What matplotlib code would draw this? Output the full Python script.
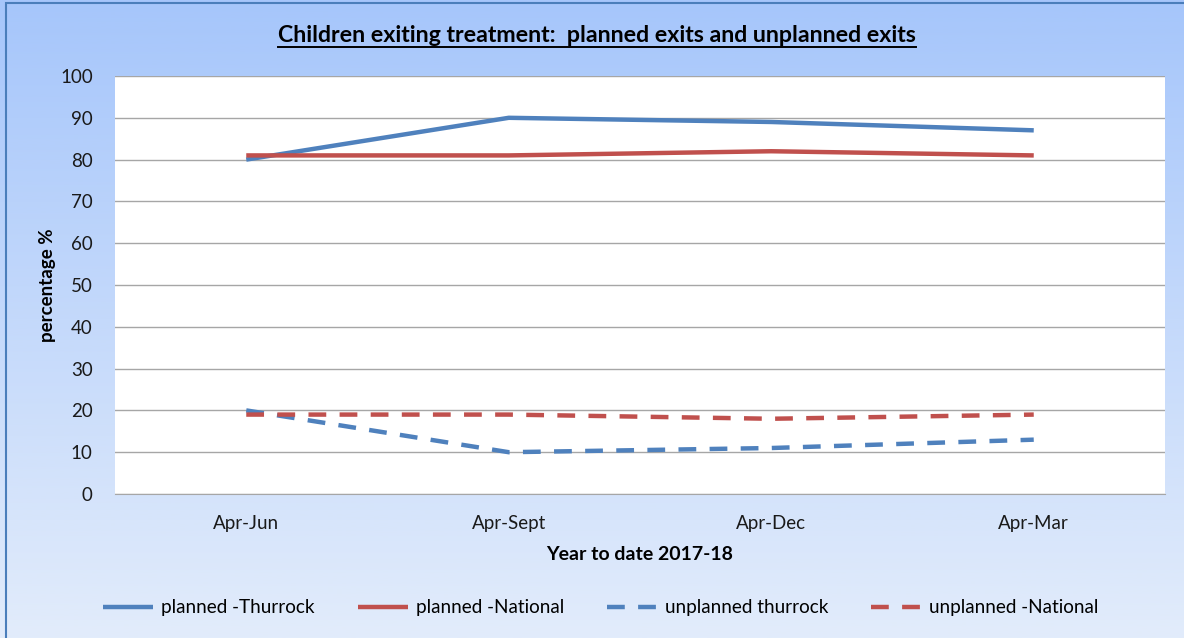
import matplotlib
matplotlib.use("Agg")
import matplotlib.pyplot as plt
import numpy as np
from matplotlib.patches import Rectangle

categories = ["Apr-Jun", "Apr-Sept", "Apr-Dec", "Apr-Mar"]
planned_thurrock = [80, 90, 89, 87]
planned_national = [81, 81, 82, 81]
unplanned_thurrock = [20, 10, 11, 13]
unplanned_national = [19, 19, 18, 19]

W, H = 1184, 638
fig = plt.figure(figsize=(W / 100, H / 100), dpi=100)
plt.rcParams['font.family'] = ['Lato', 'DejaVu Sans']

# gradient background
bg = fig.add_axes([0, 0, 1, 1], zorder=-10)
top = np.array([0xa6, 0xc6, 0xfb]) / 255
bot = np.array([0xe2, 0xec, 0xfb]) / 255
t = np.linspace(0, 1, 256)[:, None]
grad = top * (1 - t) + bot * t
bg.imshow(grad[:, None, :], aspect='auto', extent=[0, 1, 0, 1])
bg.set_xlim(0, 1); bg.set_ylim(0, 1)
bg.axis('off')
fig.patches.append(Rectangle((6 / W, -0.1), 1.2, (H - 3) / H + 0.1,
                             transform=fig.transFigure, fill=False,
                             edgecolor='#4a7ebb', linewidth=1.5, zorder=5))

ax = fig.add_axes([115 / W, 1 - 494 / H, 1050 / W, (494 - 76) / H])
ax.set_facecolor('white')
x = np.arange(len(categories))
blue = '#4f81bd'
red = '#c0504d'
lw = 3.2
ax.plot(x, planned_thurrock, color=blue, lw=lw, label='planned -Thurrock', solid_capstyle='butt')
ax.plot(x, planned_national, color=red, lw=lw, label='planned -National', solid_capstyle='butt')
ax.plot(x, unplanned_thurrock, color=blue, lw=lw, ls=(0, (4, 3)), label='unplanned thurrock', dash_capstyle='butt')
ax.plot(x, unplanned_national, color=red, lw=lw, ls=(0, (4, 3)), label='unplanned -National', dash_capstyle='butt')

ax.set_xlim(-0.5, 3.5)
ax.set_ylim(0, 100)
ax.set_yticks(range(0, 101, 10))
ax.set_xticks(x)
ax.set_xticklabels(categories)
ax.grid(axis='y', color='#a6a6a6', lw=1)
ax.set_axisbelow(True)
for s in ['top', 'right', 'left']:
    ax.spines[s].set_visible(False)
ax.spines['bottom'].set_color('#a6a6a6')
ax.tick_params(axis='both', length=0, labelsize=13.5, colors='#1a1a1a')
ax.tick_params(axis='x', pad=15)
ax.tick_params(axis='y', pad=16)
ax.set_ylabel('percentage %', fontsize=13.5, fontweight='bold', labelpad=3)
ax.set_xlabel('Year to date 2017-18', fontsize=14, fontweight='bold', labelpad=10)

title = fig.text(0.5 + 5 / W, 1 - 36 / H, 'Children exiting treatment:  planned exits and unplanned exits',
                 ha='center', va='center', fontsize=16.7, fontweight='bold')

leg = fig.legend(loc='center', bbox_to_anchor=(0.5 + 9 / W, 1 - 608 / H), ncol=4,
                 frameon=False, fontsize=13.6, handlelength=2.65, columnspacing=2.28,
                 handletextpad=0.42)

fig.canvas.draw()
bb = title.get_window_extent(renderer=fig.canvas.get_renderer())
fig.lines.append(plt.Line2D([bb.x0 / W, bb.x1 / W], [1 - 47 / H, 1 - 47 / H],
                            transform=fig.transFigure, color='black', lw=1.4))

fig.savefig('out.png', dpi=100)
